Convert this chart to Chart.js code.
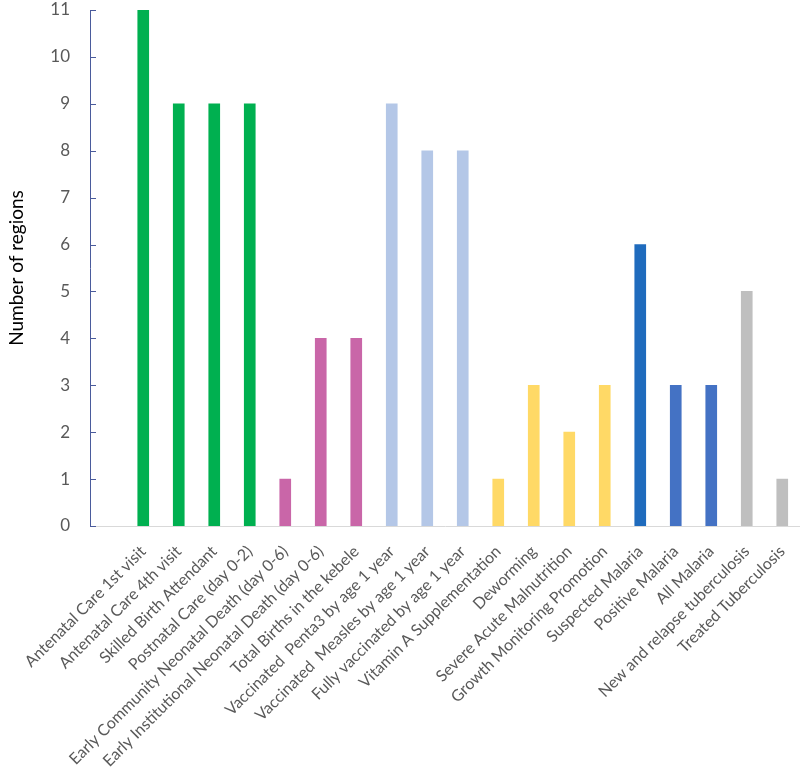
<!DOCTYPE html>
<html>
<head>
<meta charset="utf-8">
<script src="https://cdn.jsdelivr.net/npm/chart.js@4"></script>
<style>
  html, body { margin: 0; padding: 0; background: #fff; }
  #wrap { width: 800px; height: 772px; }
</style>
</head>
<body>
<div id="wrap"><canvas id="regionsChart"></canvas></div>
<script>
// first slot is left empty, as in the original (gap before first bar)
const indicators = [
  "",
  "Antenatal Care 1st visit",
  "Antenatal Care 4th visit",
  "Skilled Birth Attendant",
  "Postnatal Care (day 0-2)",
  "Early Community Neonatal Death (day 0-6)",
  "Early Institutional Neonatal Death (day 0-6)",
  "Total Births in the kebele",
  "Vaccinated  Penta3 by age 1 year",
  "Vaccinated  Measles by age 1 year",
  "Fully vaccinated by age 1 year",
  "Vitamin A Supplementation",
  "Deworming",
  "Severe Acute Malnutrition",
  "Growth Monitoring Promotion",
  "Suspected Malaria",
  "Positive Malaria",
  "All Malaria",
  "New and relapse tuberculosis",
  "Treated Tuberculosis"
];
const regionCounts = [null, 11, 9, 9, 9, 1, 4, 4, 9, 8, 8, 1, 3, 2, 3, 6, 3, 3, 5, 1];
const barColors = [
  "#ffffff",
  "#00b050", "#00b050", "#00b050", "#00b050",
  "#c966a8", "#c966a8", "#c966a8",
  "#b4c7e7", "#b4c7e7", "#b4c7e7",
  "#ffd966", "#ffd966", "#ffd966", "#ffd966",
  "#1f6bbd", "#4472c4", "#4472c4",
  "#bfbfbf", "#bfbfbf"
];
const yTicks = [0, 1, 2, 3, 4, 5, 6, 7, 8, 9, 10, 11];

// Excel-style inside tick marks on the value axis
const insideTicks = {
  id: "insideTicks",
  afterDraw(chart) {
    const y = chart.scales.y;
    const c = chart.ctx;
    c.save();
    c.strokeStyle = "#4a5b9c";
    c.lineWidth = 1;
    yTicks.forEach((v) => {
      const py = Math.round(y.getPixelForValue(v)) + 0.5;
      c.beginPath();
      c.moveTo(y.right, py);
      c.lineTo(y.right + 6, py);
      c.stroke();
    });
    c.restore();
  },
};

new Chart(document.getElementById("regionsChart"), {
  type: "bar",
  data: {
    labels: indicators,
    datasets: [
      {
        label: "Number of regions",
        data: regionCounts,
        backgroundColor: barColors,
        barThickness: 11,
      },
    ],
  },
  options: {
    responsive: true,
    maintainAspectRatio: false,
    animation: false,
    layout: { padding: { top: 10, right: 0, bottom: 0, left: 0 } },
    plugins: {
      legend: { display: false },
      tooltip: { enabled: false },
    },
    scales: {
      x: {
        afterFit: (scale) => {
          scale.height = 246;
          scale.paddingRight = 0;
        },
        grid: { display: false },
        border: { color: "#d9d9d9", width: 1 },
        ticks: {
          color: "#595959",
          font: { family: "Lato", size: 16 },
          maxRotation: 45,
          minRotation: 45,
          autoSkip: false,
          padding: 8,
        },
      },
      y: {
        min: 0,
        max: 11,
        afterFit: (scale) => {
          scale.width = 90;
          scale.paddingTop = 0;
          scale.paddingBottom = 0;
        },
        grid: { display: false },
        border: { color: "#4a5b9c", width: 1 },
        ticks: {
          stepSize: 1,
          color: "#595959",
          font: { family: "Lato", size: 17 },
          padding: 12,
        },
        title: {
          display: true,
          text: "Number of regions",
          color: "#000000",
          font: { family: "Lato", size: 19 },
          padding: { top: 5, bottom: 0 },
        },
      },
    },
  },
  plugins: [insideTicks],
});
</script>
</body>
</html>
